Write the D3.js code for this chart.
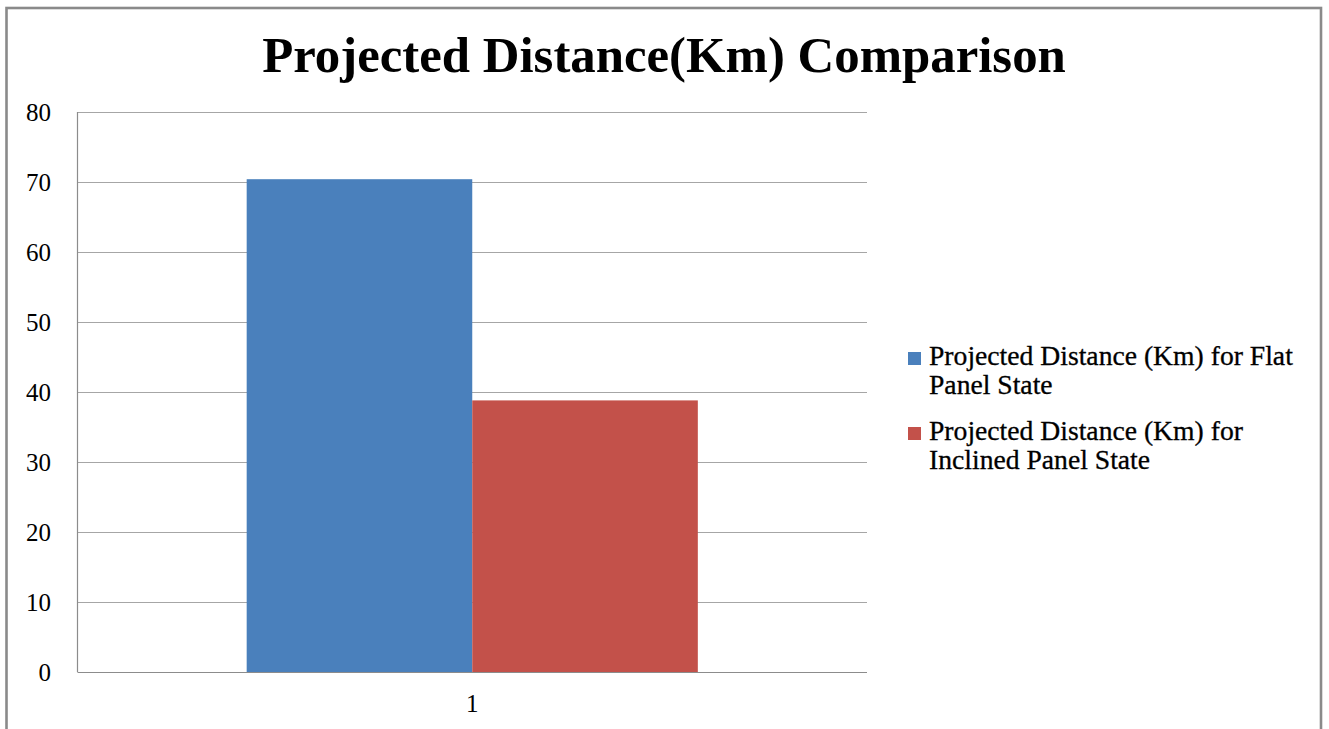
<!DOCTYPE html>
<html>
<head>
<meta charset="utf-8">
<script src="https://cdn.jsdelivr.net/npm/d3@7"></script>
<style>
  html, body { margin: 0; padding: 0; background: #fff; }
  svg { display: block; }
  text { font-family: "Liberation Serif", "DejaVu Serif", serif; fill: #000; }
</style>
</head>
<body>
<svg id="chart" width="1329" height="729"></svg>
<script>
// Chart data
const categories = ["1"];
const seriesNames = [
  "Projected Distance (Km) for Flat Panel State",
  "Projected Distance (Km) for Inclined Panel State"
];
const legendLines = [
  ["Projected Distance (Km) for Flat", "Panel State"],
  ["Projected Distance (Km) for", "Inclined Panel State"]
];
const seriesValues = [70.4, 38.8];
const seriesColors = ["#4A80BC", "#C3514A"];
const yTicks = [0, 10, 20, 30, 40, 50, 60, 70, 80];
const titleText = "Projected Distance(Km) Comparison";

const svg = d3.select("#chart");

// Outer chart frame
svg.append("rect")
  .attr("x", 6.5).attr("y", 8)
  .attr("width", 1314.5).attr("height", 740)
  .attr("fill", "#fff")
  .attr("stroke", "#8a8a8a").attr("stroke-width", 2.6);

const plot = { left: 77.5, right: 867, top: 112, bottom: 672 };

const y = d3.scaleLinear().domain([0, 80]).range([plot.bottom, plot.top]);
const x0 = d3.scaleBand().domain(categories).range([plot.left, plot.right])
  .paddingInner(0).paddingOuter(0);
// Gap width of 150%: the bar group takes 2/3.5 of the category slot
const groupWidth = x0.bandwidth() * 2 / 3.5;
const x1 = d3.scaleBand().domain(d3.range(seriesValues.length))
  .range([0, groupWidth]);

// Gridlines
svg.append("g")
  .selectAll("line")
  .data(yTicks.filter(d => d > 0))
  .join("line")
  .attr("x1", plot.left).attr("x2", plot.right)
  .attr("y1", d => Math.round(y(d)) + 0.5).attr("y2", d => Math.round(y(d)) + 0.5)
  .attr("stroke", "#a6a6a6").attr("stroke-width", 1.2);

// Bars
const groups = svg.append("g")
  .selectAll("g")
  .data(categories)
  .join("g")
  .attr("transform", d => `translate(${x0(d) + (x0.bandwidth() - groupWidth) / 2},0)`);

groups.selectAll("rect")
  .data(() => seriesValues.map((v, i) => ({ v, i })))
  .join("rect")
  .attr("x", d => x1(d.i))
  .attr("width", x1.bandwidth())
  .attr("y", d => y(d.v))
  .attr("height", d => y(0) - y(d.v))
  .attr("fill", d => seriesColors[d.i]);

// Axis lines
svg.append("line")
  .attr("x1", plot.left).attr("x2", plot.left)
  .attr("y1", plot.top).attr("y2", plot.bottom)
  .attr("stroke", "#8c8c8c").attr("stroke-width", 1.2);
svg.append("line")
  .attr("x1", plot.left).attr("x2", plot.right)
  .attr("y1", plot.bottom + 0.5).attr("y2", plot.bottom + 0.5)
  .attr("stroke", "#8c8c8c").attr("stroke-width", 1.2);

// Y axis labels
const yAxis = d3.axisLeft(y).tickValues(yTicks).tickSize(0).tickPadding(0);
const gy = svg.append("g").attr("transform", `translate(51,0)`).call(yAxis);
gy.select(".domain").remove();
gy.selectAll("text")
  .attr("font-family", "Liberation Serif, DejaVu Serif, serif")
  .attr("font-size", 25).attr("fill", "#000").attr("dy", "0.34em");

// X axis label
const xAxis = d3.axisBottom(x0).tickSize(0).tickPadding(0);
const gx = svg.append("g").attr("transform", `translate(0,${plot.bottom + 22})`).call(xAxis);
gx.select(".domain").remove();
gx.selectAll("text")
  .attr("font-family", "Liberation Serif, DejaVu Serif, serif")
  .attr("font-size", 25).attr("fill", "#000").attr("dy", "0.7em");

// Fit a text element's size so it spans a given width
function fitWidth(sel, width, base) {
  const node = sel.node();
  const w = node.getComputedTextLength();
  sel.attr("font-size", base * width / w);
}

// Title
const title = svg.append("text")
  .attr("x", 664).attr("y", 72)
  .attr("text-anchor", "middle")
  .attr("font-weight", "bold")
  .attr("font-size", 44)
  .text(titleText);
fitWidth(title, 804, 44);

// Legend
const legend = svg.append("g");
const legendTop = [365, 440];
legendLines.forEach((lines, i) => {
  const g = legend.append("g");
  g.append("rect")
    .attr("x", 908).attr("y", legendTop[i] - 13)
    .attr("width", 13).attr("height", 13)
    .attr("fill", seriesColors[i]);
  lines.forEach((ln, j) => {
    const t = g.append("text")
      .attr("x", 929).attr("y", legendTop[i] + j * 29)
      .attr("font-size", 21)
      .attr("stroke", "#000").attr("stroke-width", 0.3)
      .text(ln);
    if (i === 0 && j === 0) fitWidth(t, 364, 21);
  });
});
// Apply the same size to all legend lines
const lfs = legend.select("text").attr("font-size");
legend.selectAll("text").attr("font-size", lfs);
</script>
</body>
</html>
